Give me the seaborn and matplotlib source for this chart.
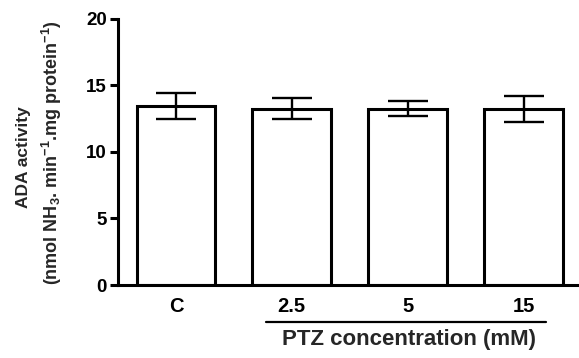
import matplotlib
matplotlib.use("Agg")
import matplotlib.pyplot as plt
import matplotlib.transforms as mtransforms
import seaborn as sns
import pandas as pd
import numpy as np

categories = ["C", "2.5", "5", "15"]
means = [13.44, 13.27, 13.27, 13.22]
errors = [0.97, 0.80, 0.55, 0.96]
y_ticks = [0, 5, 10, 15, 20]

sns.set_theme(style="ticks")
plt.rcParams['font.family'] = ['Liberation Sans', 'DejaVu Sans']
plt.rcParams['font.weight'] = 'bold'
plt.rcParams['mathtext.fontset'] = 'custom'
plt.rcParams['mathtext.rm'] = 'Liberation Sans:bold'
plt.rcParams['mathtext.bf'] = 'Liberation Sans:bold'
plt.rcParams['mathtext.it'] = 'Liberation Sans:bold'
plt.rcParams['mathtext.default'] = 'bf'

df = pd.DataFrame({"group": categories, "value": means})

fig = plt.figure(figsize=(5.79, 3.58), dpi=100)
ax = fig.add_axes([118/579, 73/358, 460/579, 266/358])

sns.barplot(data=df, x="group", y="value", order=categories, width=0.68,
            color="white", edgecolor="black", linewidth=2.2, errorbar=None, ax=ax)
for p in ax.patches:
    p.set_facecolor("white")
    p.set_joinstyle("miter")

ax.errorbar(np.arange(len(categories)), means, yerr=errors, fmt="none",
            ecolor="black", elinewidth=1.7, capsize=14.4, capthick=1.7, zorder=5)

ax.set_ylim(0, 20)
ax.set_yticks(y_ticks)
ax.set_xlim(-0.5, 3.47)
sns.despine(ax=ax)
for s in ["left", "bottom"]:
    ax.spines[s].set_linewidth(2.2)
    ax.spines[s].set_color("black")
ax.tick_params(axis="y", length=6, width=2.2, labelsize=13.5, pad=2, colors="black")
ax.tick_params(axis="x", length=0, labelsize=14.5, pad=9, colors="black")
for lab in ax.get_xticklabels() + ax.get_yticklabels():
    lab.set_fontweight("bold")
ax.set_xlabel("")
ax.set_ylabel("")

fig.text(24/579, 1 - 157/358, "ADA activity", rotation=90, ha="center", va="center",
         fontsize=12.5, fontweight="bold")
fig.text(52/579, 1 - 153/358, "(nmol NH$_3$. min$^{-1}$.mg protein$^{-1}$)", rotation=90,
         ha="center", va="center", fontsize=13, fontweight="bold")

trans = mtransforms.blended_transform_factory(ax.transData, fig.transFigure)
ax.plot([0.78, 3.19], [1 - 321.7/358, 1 - 321.7/358], color="black", lw=1.6,
        transform=trans, clip_on=False)
fig.text(409/579, 1 - 340/358, "PTZ concentration (mM)", ha="center", va="center",
         fontsize=16, fontweight="bold")

fig.savefig("out.png", dpi=100)
